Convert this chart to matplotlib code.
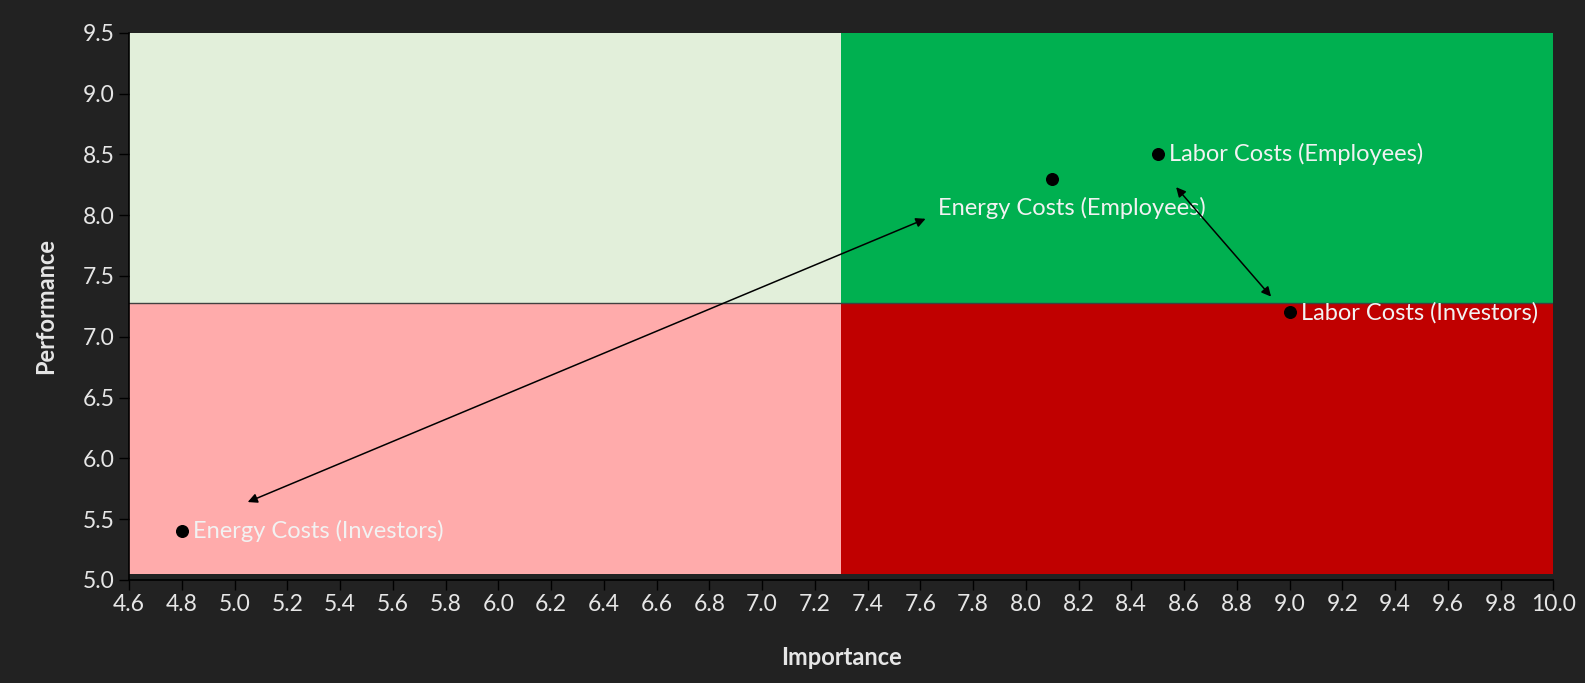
import matplotlib.pyplot as plt
from matplotlib.patches import Rectangle

# data
names = ['Energy Costs (Investors)', 'Energy Costs (Employees)',
         'Labor Costs (Employees)', 'Labor Costs (Investors)']
importance = [4.8, 8.1, 8.5, 9.0]
performance = [5.4, 8.3, 8.5, 7.2]

# quadrant split and extents
x_split = 7.3
y_split = 7.28
x_lo, x_hi = 4.6, 10.0
y_lo, y_hi = 5.05, 9.5

# arrows (start, end)
arrow_pairs = [((5.05, 5.64), (7.62, 7.97)),
               ((8.57, 8.23), (8.93, 7.33))]

bg = '#222222'
txt = '#e6e6e6'
plt.rcParams['font.family'] = ['Lato', 'DejaVu Sans']

fig = plt.figure(figsize=(15.85, 6.83), dpi=100, facecolor=bg)
ax = fig.add_axes([0.0814, 0.151, 0.8986, 0.801])
ax.set_facecolor(bg)

# quadrants
ax.add_patch(Rectangle((x_lo, y_split), x_split - x_lo, y_hi - y_split, color='#e2efda', lw=0))
ax.add_patch(Rectangle((x_split, y_split), x_hi - x_split, y_hi - y_split, color='#00b050', lw=0))
ax.add_patch(Rectangle((x_lo, y_lo), x_split - x_lo, y_split - y_lo, color='#ffabab', lw=0))
ax.add_patch(Rectangle((x_split, y_lo), x_hi - x_split, y_split - y_lo, color='#c00000', lw=0))
ax.plot([x_lo, x_hi], [y_split, y_split], color='#404040', lw=1)

ax.scatter(importance, performance, s=70, color='black', zorder=5)

for n, x, y in zip(names, importance, performance):
    if n == 'Energy Costs (Employees)':
        ax.annotate(n, (x, y), xytext=(14, -21), textcoords='offset points',
                    ha='center', va='center', color='#f2f2f2', fontsize=17)
    else:
        ax.annotate(n, (x, y), xytext=(8, 0), textcoords='offset points',
                    ha='left', va='center', color='#f2f2f2', fontsize=17)

for (a, b) in arrow_pairs:
    ax.annotate('', xy=b, xytext=a,
                arrowprops=dict(arrowstyle='<|-|>', color='black', lw=1.1,
                                mutation_scale=14, shrinkA=0, shrinkB=0))

ax.set_xlim(4.6, 10.0)
ax.set_ylim(5.0, 9.5)
ax.set_xticks([round(4.6 + 0.2 * i, 1) for i in range(28)])
ax.set_yticks([5.0 + 0.5 * i for i in range(10)])
ax.xaxis.set_major_formatter(plt.FormatStrFormatter('%.1f'))
ax.yaxis.set_major_formatter(plt.FormatStrFormatter('%.1f'))
ax.tick_params(colors='black', labelcolor=txt, labelsize=16.5, length=7, width=1, direction='out')
for s in ['top', 'right']:
    ax.spines[s].set_visible(False)
for s in ['left', 'bottom']:
    ax.spines[s].set_color('black')
    ax.spines[s].set_linewidth(1.2)

ax.set_xlabel('Importance', color=txt, fontsize=17, fontweight='bold', labelpad=22)
ax.set_ylabel('Performance', color=txt, fontsize=17, fontweight='bold', labelpad=18)

fig.savefig('out.png', dpi=100, facecolor=bg)
